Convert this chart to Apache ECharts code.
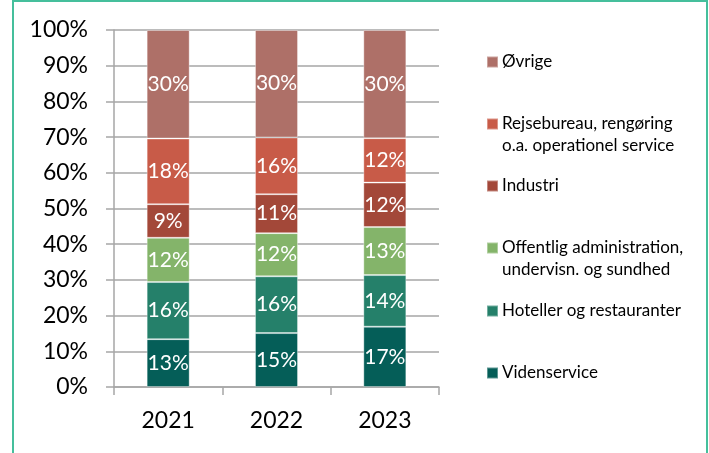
<!DOCTYPE html>
<html>
<head>
<meta charset="utf-8">
<style>
  html, body { margin: 0; padding: 0; background: #fff; }
  #chart { width: 709px; height: 453px; }
</style>
<script src="https://cdn.jsdelivr.net/npm/echarts@6/dist/echarts.min.js"></script>
</head>
<body>
<div id="chart"></div>
<script>
  var years = ['2021', '2022', '2023']
  // stacked bottom -> top
  var videnservice = [13.4, 15.1, 16.9]
  var hoteller = [16.0, 15.9, 14.45]
  var offentlig = [12.4, 12.1, 13.45]
  var industri = [9.4, 10.9, 12.45]
  var rejsebureau = [18.4, 15.9, 12.45]
  var oevrige = [30.4, 30.1, 30.3]
  var yTicks = [0, 10, 20, 30, 40, 50, 60, 70, 80, 90, 100]

  var font = 'Lato, "Open Sans", sans-serif'

  var seriesDefs = [
    { name: 'Videnservice', data: videnservice, color: '#055E58', legendTop: 357 },
    { name: 'Hoteller og restauranter', data: hoteller, color: '#25806A', legendTop: 295 },
    { name: 'Offentlig administration,\nundervisn. og sundhed', data: offentlig, color: '#84B46A', legendTop: 210 },
    { name: 'Industri', data: industri, color: '#A34839', legendTop: 170 },
    { name: 'Rejsebureau, rengøring\no.a. operationel service', data: rejsebureau, color: '#C85B48', legendTop: 86 },
    { name: 'Øvrige', data: oevrige, color: '#AE7068', legendTop: 46 },
  ]

  var chart = echarts.init(document.getElementById('chart'))

  var legends = seriesDefs.map(function (s) {
    var multi = s.name.indexOf('\n') >= 0
    return {
      data: [s.name],
      left: 481,
      top: s.legendTop,
      orient: 'vertical',
      icon: 'rect',
      itemWidth: 11,
      itemHeight: 11,
      selectedMode: false,
      formatter: function (name) {
        // blank first line so the swatch lines up with the first text line
        return multi ? '\n' + name : name
      },
      textStyle: {
        fontFamily: font,
        fontSize: 17,
        color: '#000',
        lineHeight: 22,
        padding: [0, 0, 0, -1],
      },
    }
  })

  chart.setOption({
    animation: false,
    graphic: [
      {
        type: 'rect',
        shape: { x: 13, y: 1, width: 694, height: 470 },
        style: { fill: 'none', stroke: '#45BF9C', lineWidth: 2 },
        silent: true,
      },
    ],
    legend: legends,
    grid: { left: 114, right: 270, top: 30, bottom: 66 },
    xAxis: {
      type: 'category',
      data: years,
      axisLine: { lineStyle: { color: '#A6A6A6', width: 1.5 } },
      axisTick: { show: true, length: 8, lineStyle: { color: '#A6A6A6', width: 1.5 } },
      axisLabel: { color: '#000', fontFamily: font, fontSize: 23, margin: 22 },
    },
    yAxis: {
      type: 'value',
      min: 0,
      max: 100,
      interval: 10,
      axisLine: { show: true, lineStyle: { color: '#A6A6A6', width: 1.5 } },
      axisTick: { show: true, length: 8, lineStyle: { color: '#A6A6A6', width: 1.5 } },
      splitLine: { lineStyle: { color: '#A6A6A6', width: 1.5 } },
      axisLabel: {
        color: '#000',
        fontFamily: font,
        fontSize: 23,
        margin: 26,
        customValues: yTicks,
        formatter: '{value}%',
      },
    },
    series: seriesDefs.map(function (s) {
      return {
        name: s.name,
        type: 'bar',
        stack: 'total',
        barWidth: 43,
        data: s.data,
        itemStyle: {
          color: s.color,
          borderColor: 'rgba(255,255,255,0.35)',
          borderWidth: 1,
        },
        label: {
          show: true,
          position: 'inside',
          color: '#fff',
          fontFamily: font,
          fontSize: 21,
          formatter: function (p) {
            return Math.round(p.value) + '%'
          },
        },
      }
    }),
  })
</script>
</body>
</html>
